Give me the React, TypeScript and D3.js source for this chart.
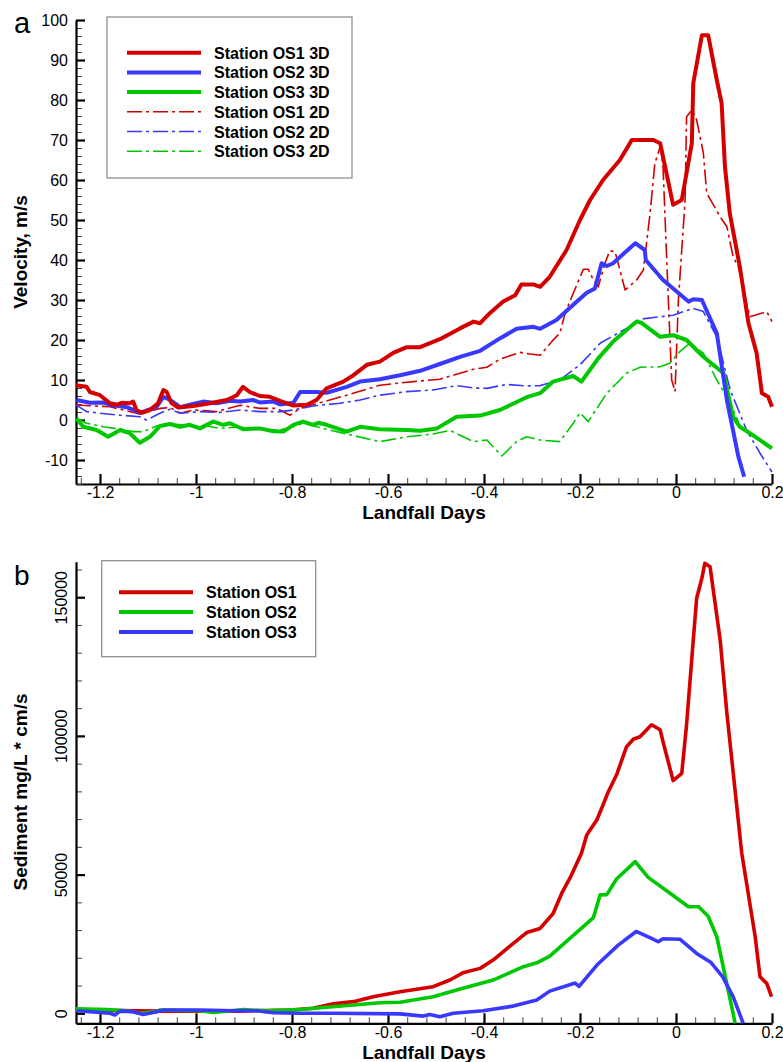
import { useEffect, useRef } from "react";
import * as d3 from "d3";

const width = 783;
const height = 1062;
const font = "'Liberation Sans', Arial, sans-serif";

const red = "#d40000";
const blue = "#3838ff";
const green = "#00c800";

// x ticks shared by both panels (landfall days)
const xTicks = [-1.2, -1, -0.8, -0.6, -0.4, -0.2, 0, 0.2];

// ---- panel a: velocity, m/s ----
const os1_3d_days = [-1.25, -1.228, -1.221, -1.2, -1.179, -1.165, -1.155, -1.138, -1.131, -1.124, -1.113, -1.096, -1.079, -1.068, -1.061, -1.051, -1.037, -1.006, -0.971, -0.936, -0.915, -0.902, -0.888, -0.867, -0.846, -0.825, -0.797, -0.769, -0.749, -0.728, -0.693, -0.672, -0.644, -0.617, -0.589, -0.561, -0.533, -0.492, -0.45, -0.422, -0.408, -0.388, -0.36, -0.335, -0.322, -0.297, -0.283, -0.263, -0.228, -0.2, -0.179, -0.152, -0.117, -0.092, -0.047, -0.033, -0.006, 0.012, 0.033, 0.036, 0.054, 0.067, 0.085, 0.095, 0.102, 0.112, 0.133, 0.151, 0.168, 0.179, 0.192, 0.2];
const os1_3d_vals = [8.7, 8.3, 7, 6.2, 4.2, 3.8, 4.3, 4.2, 4.6, 2.5, 1.8, 2.5, 4.2, 7.5, 7, 4.2, 3.1, 3.5, 4.2, 5, 6.2, 8.3, 7, 6, 5.8, 4.8, 3.6, 3.8, 5, 7.9, 9.6, 11.2, 13.8, 14.6, 16.8, 18.2, 18.2, 20.2, 22.9, 24.6, 24.2, 26.7, 29.6, 31.2, 33.9, 33.9, 33.3, 35.8, 42.5, 50, 55, 60, 65, 70, 70, 69.2, 53.8, 55, 69.2, 84.2, 96.2, 96.2, 85, 79.2, 63.3, 51.7, 38.3, 24.2, 16.7, 6.7, 5.8, 3.3];

const os2_3d_days = [-1.249, -1.221, -1.193, -1.179, -1.144, -1.117, -1.082, -1.068, -1.054, -1.033, -1.006, -0.985, -0.957, -0.929, -0.908, -0.881, -0.867, -0.839, -0.825, -0.797, -0.783, -0.749, -0.728, -0.686, -0.658, -0.617, -0.575, -0.533, -0.492, -0.45, -0.408, -0.367, -0.332, -0.297, -0.283, -0.249, -0.214, -0.186, -0.169, -0.155, -0.144, -0.131, -0.085, -0.065, -0.063, -0.027, 0.026, 0.036, 0.054, 0.085, 0.106, 0.13, 0.142];
const os2_3d_vals = [5, 4.3, 4.4, 3.8, 3.2, 1.8, 3.3, 5.8, 5, 3.2, 4, 4.6, 4.2, 4.8, 4.6, 5, 4.4, 4.6, 3.9, 4.3, 7, 7, 6.8, 8.3, 9.6, 10.2, 11.2, 12.3, 14, 15.8, 17.3, 20.4, 22.8, 23.3, 22.8, 25, 28.8, 31.8, 32.9, 39.2, 38.5, 39.2, 44.2, 42.5, 40, 35, 29.6, 30.2, 30, 21.7, 5, -9.2, -14.2];

const os3_3d_days = [-1.249, -1.235, -1.207, -1.183, -1.158, -1.138, -1.117, -1.096, -1.075, -1.054, -1.033, -1.013, -0.992, -0.964, -0.943, -0.929, -0.902, -0.867, -0.839, -0.818, -0.797, -0.777, -0.756, -0.745, -0.728, -0.686, -0.658, -0.617, -0.561, -0.533, -0.498, -0.457, -0.408, -0.367, -0.311, -0.283, -0.256, -0.214, -0.197, -0.162, -0.131, -0.082, -0.072, -0.033, -0.006, 0.022, 0.057, 0.099, 0.119, 0.133, 0.154, 0.2];
const os3_3d_vals = [0.4, -1.7, -2.5, -4.2, -2.5, -3.3, -5.7, -4.2, -1.5, -1, -1.7, -1.2, -2.1, -0.4, -1.2, -0.8, -2.3, -2.1, -2.8, -2.9, -1.2, -0.4, -1.2, -0.7, -1.2, -2.9, -1.7, -2.3, -2.5, -2.7, -2.1, 0.8, 1.1, 2.5, 5.7, 6.7, 9.6, 11, 9.6, 15.4, 19.6, 24.6, 24.3, 20.8, 21.2, 20, 15.8, 11.7, 0.8, -1.7, -3.3, -7.1];

const os1_2d_days = [-1.25, -1.242, -1.179, -1.117, -1.075, -1.054, -1.033, -1.006, -0.957, -0.908, -0.867, -0.832, -0.804, -0.783, -0.742, -0.686, -0.617, -0.547, -0.492, -0.45, -0.422, -0.394, -0.367, -0.325, -0.304, -0.283, -0.256, -0.242, -0.231, -0.214, -0.193, -0.183, -0.172, -0.162, -0.148, -0.138, -0.127, -0.106, -0.082, -0.068, -0.054, -0.044, -0.033, -0.027, -0.016, -0.009, -0.002, 0.005, 0.019, 0.022, 0.033, 0.043, 0.057, 0.064, 0.092, 0.106, 0.119, 0.13, 0.144, 0.154, 0.189, 0.2];
const os1_2d_vals = [3.9, 3.7, 3.3, 1.5, 2.9, 3.1, 1.7, 2.5, 2.1, 3.7, 2.9, 2.9, 1.2, 2.9, 4.3, 6.2, 8.7, 9.6, 10.2, 11.7, 12.7, 13.2, 15.2, 16.9, 16.5, 16.2, 20, 21.7, 26.7, 31.7, 37.7, 37.7, 35, 33.3, 39.2, 42.3, 42.1, 32.5, 35, 37.5, 51.7, 64.2, 68.3, 63.3, 30, 10, 7.1, 30, 55, 75.8, 77.5, 75, 66.7, 56.7, 50.8, 48.3, 40.8, 38.3, 30.8, 25.8, 27.1, 24.6];

const os2_2d_days = [-1.25, -1.228, -1.2, -1.158, -1.117, -1.103, -1.075, -1.054, -1.033, -0.992, -0.95, -0.908, -0.867, -0.825, -0.797, -0.756, -0.7, -0.658, -0.617, -0.561, -0.506, -0.457, -0.422, -0.394, -0.353, -0.311, -0.283, -0.242, -0.2, -0.158, -0.103, -0.075, -0.006, 0.036, 0.057, 0.085, 0.113, 0.147, 0.175, 0.2];
const os2_2d_vals = [3.8, 2.1, 1.7, 1.2, 0.8, 0, 1.7, 2.7, 1.7, 2.1, 1.9, 2.5, 2.1, 2.1, 2.5, 3.5, 4.2, 5, 6.2, 7.1, 7.5, 8.6, 8, 7.9, 8.9, 8.5, 8.6, 10, 13.8, 19.2, 22.9, 25.2, 26.2, 27.9, 27.1, 20.8, 7.5, -2.5, -8.3, -13];

const os3_2d_days = [-1.249, -1.228, -1.193, -1.158, -1.131, -1.11, -1.082, -1.054, -1.033, -1.006, -0.978, -0.95, -0.908, -0.867, -0.825, -0.797, -0.777, -0.728, -0.686, -0.617, -0.561, -0.506, -0.471, -0.422, -0.394, -0.363, -0.332, -0.311, -0.283, -0.242, -0.214, -0.2, -0.183, -0.144, -0.103, -0.075, -0.033, -0.013, 0.008, 0.029, 0.057, 0.085, 0.113, 0.13];
const os3_2d_vals = [0.4, -0.8, -1.7, -2.3, -2.9, -2.9, -1.5, -0.8, -1.2, -1.7, -1.5, -2.1, -1.7, -2.3, -2.5, -1.7, -0.8, -2.3, -3.5, -5.4, -4.2, -3.5, -2.6, -5.4, -5, -9, -5.4, -4.2, -5, -5.4, -0.8, 1.8, -0.4, 6.7, 11.7, 13.2, 13.3, 14.2, 17.1, 19.2, 16.7, 10, 4.2, -0.5];

// ---- panel b: sediment, mg/L * cm/s ----
const sed_os1_days = [-1.25, -1.075, -0.908, -0.804, -0.756, -0.714, -0.672, -0.631, -0.575, -0.506, -0.471, -0.444, -0.408, -0.381, -0.339, -0.311, -0.283, -0.256, -0.238, -0.221, -0.197, -0.186, -0.165, -0.152, -0.141, -0.124, -0.103, -0.089, -0.075, -0.051, -0.033, -0.027, -0.006, 0.012, 0.022, 0.036, 0.043, 0.054, 0.06, 0.071, 0.092, 0.106, 0.137, 0.165, 0.175, 0.189, 0.199];
const sed_os1_vals = [1200, 800, 800, 1200, 1800, 3400, 4200, 6000, 7800, 9600, 12000, 14600, 16200, 19200, 25200, 29100, 30600, 36000, 43300, 48700, 57700, 64300, 69700, 75100, 79900, 85900, 96100, 98800, 99700, 104000, 102200, 97900, 83900, 86500, 104000, 134600, 149600, 156900, 162200, 161000, 134600, 108200, 57700, 27600, 13200, 10800, 6000];

const sed_os2_days = [-1.25, -1.186, -1.144, -1.117, -1.082, -1.075, -0.992, -0.964, -0.902, -0.853, -0.783, -0.728, -0.672, -0.617, -0.575, -0.506, -0.444, -0.381, -0.318, -0.29, -0.263, -0.172, -0.158, -0.144, -0.124, -0.085, -0.058, -0.006, 0.026, 0.047, 0.067, 0.085, 0.119, 0.123];
const sed_os2_vals = [1600, 1400, 900, 0, 600, 1200, 900, 300, 1400, 900, 1400, 2200, 3000, 3800, 4000, 6000, 9000, 12000, 16800, 18200, 20600, 34500, 42700, 42800, 48400, 54700, 49000, 42500, 38400, 38400, 35000, 27600, 0, -3600];

const sed_os3_days = [-1.249, -1.179, -1.169, -1.158, -1.131, -1.11, -1.082, -1.068, -0.992, -0.922, -0.874, -0.839, -0.783, -0.714, -0.575, -0.527, -0.513, -0.492, -0.464, -0.402, -0.339, -0.29, -0.263, -0.21, -0.202, -0.163, -0.121, -0.083, -0.051, -0.037, -0.027, 0.008, 0.043, 0.073, 0.097, 0.119, 0.14];
const sed_os3_vals = [900, 0, -600, 800, 600, -400, 600, 1200, 1200, 900, 900, 200, 0, 0, -200, -1000, -400, -1200, 0, 900, 2600, 4800, 8000, 10900, 9700, 17700, 24500, 29500, 27000, 25800, 26900, 26700, 21600, 18300, 13200, 6000, -3600];

function zip(days, vals) {
  return days.map((d, i) => [d, vals[i]]);
}

function drawAxes(g, x, y, yBase, yMajor, yMinor, rotateY) {
  const left = x.range()[0];

  // x minor ticks
  g.append("g")
    .attr("transform", "translate(0," + yBase + ")")
    .call(
      d3.axisBottom(x)
        .tickValues(d3.range(0, 37).map((i) => -1.24 + i * 0.04))
        .tickSize(-6)
        .tickSizeOuter(0)
        .tickFormat(() => "")
    )
    .call((a) => a.select(".domain").remove())
    .selectAll("line")
    .attr("stroke", "#444")
    .attr("stroke-width", 1);

  // x major ticks
  const xa = g.append("g")
    .attr("transform", "translate(0," + yBase + ")")
    .call(
      d3.axisBottom(x)
        .tickValues(xTicks)
        .tickSize(-10)
        .tickSizeOuter(0)
        .tickPadding(3)
        .tickFormat((d) => String(d))
    );
  xa.select(".domain").attr("stroke-width", 2.2);
  xa.selectAll("line").attr("stroke-width", 2.2);
  xa.selectAll("text").attr("font-family", font).attr("font-size", 16).attr("fill", "#000");

  // y minor ticks
  g.append("g")
    .attr("transform", "translate(" + left + ",0)")
    .call(d3.axisLeft(y).tickValues(yMinor).tickSize(-6).tickSizeOuter(0).tickFormat(() => ""))
    .call((a) => a.select(".domain").remove())
    .selectAll("line")
    .attr("stroke", "#444")
    .attr("stroke-width", 1);

  // y major ticks
  const ya = g.append("g")
    .attr("transform", "translate(" + left + ",0)")
    .call(
      d3.axisLeft(y)
        .tickValues(yMajor)
        .tickSize(-9)
        .tickSizeOuter(0)
        .tickPadding(8)
        .tickFormat((d) => String(d))
    );
  ya.select(".domain").attr("stroke-width", 2.2);
  ya.selectAll("line").attr("stroke-width", 2.2);
  ya.selectAll("text").attr("font-family", font).attr("font-size", 16).attr("fill", "#000");
  if (rotateY) {
    ya.selectAll("text")
      .attr("x", null)
      .attr("dy", null)
      .attr("text-anchor", "middle")
      .attr("transform", "translate(-9,0) rotate(-90)");
  }
}

function drawLegend(svg, box, rows) {
  svg.append("rect")
    .attr("x", box.x).attr("y", box.y)
    .attr("width", box.w).attr("height", box.h)
    .attr("fill", "#fff").attr("stroke", "#888").attr("stroke-width", 1.2);
  rows.forEach((r, i) => {
    const cy = box.rowY + i * box.gap;
    svg.append("line")
      .attr("x1", box.lx1).attr("x2", box.lx2)
      .attr("y1", cy).attr("y2", cy)
      .attr("stroke", r.color)
      .attr("stroke-width", r.dash ? 1.6 : 4)
      .attr("stroke-dasharray", r.dash ? "15,4,3,4" : null);
    svg.append("text")
      .attr("x", box.tx).attr("y", cy + 6)
      .attr("font-family", font).attr("font-size", 16).attr("font-weight", "bold")
      .text(r.label);
  });
}

function App() {
  const ref = useRef(null);

  useEffect(() => {
    const root = d3.select(ref.current);
    root.selectAll("*").remove();
    const svg = root.append("svg")
      .attr("width", width)
      .attr("height", height)
      .attr("viewBox", [0, 0, width, height])
      .style("display", "block")
      .style("background", "#fff");

    const x = d3.scaleLinear().domain([-1.25, 0.2]).range([76, 772]);

    // ---------- panel a ----------
    const ya = d3.scaleLinear().domain([-16, 100]).range([484, 20]);
    const ga = svg.append("g");
    drawAxes(ga, x, ya, 484, d3.range(-10, 101, 10), d3.range(-16, 101, 2), false);

    const lineA = d3.line().x((d) => x(d[0])).y((d) => ya(d[1]));
    const seriesA = [
      { data: zip(os1_2d_days, os1_2d_vals), color: red, dash: true },
      { data: zip(os2_2d_days, os2_2d_vals), color: blue, dash: true },
      { data: zip(os3_2d_days, os3_2d_vals), color: green, dash: true },
      { data: zip(os3_3d_days, os3_3d_vals), color: green, dash: false },
      { data: zip(os2_3d_days, os2_3d_vals), color: blue, dash: false },
      { data: zip(os1_3d_days, os1_3d_vals), color: red, dash: false },
    ];
    seriesA.forEach((s) => {
      ga.append("path")
        .attr("d", lineA(s.data))
        .attr("fill", "none")
        .attr("stroke", s.color)
        .attr("stroke-width", s.dash ? 1.6 : 4)
        .attr("stroke-linejoin", "round")
        .attr("stroke-dasharray", s.dash ? "15,4,3,4" : null);
    });

    ga.append("text")
      .attr("transform", "translate(27,252) rotate(-90)")
      .attr("text-anchor", "middle")
      .attr("font-family", font).attr("font-size", 19).attr("font-weight", "bold")
      .text("Velocity, m/s");
    ga.append("text")
      .attr("x", 424).attr("y", 519)
      .attr("text-anchor", "middle")
      .attr("font-family", font).attr("font-size", 19).attr("font-weight", "bold")
      .text("Landfall Days");
    ga.append("text")
      .attr("x", 14).attr("y", 33)
      .attr("font-family", font).attr("font-size", 29)
      .text("a");

    drawLegend(ga, { x: 107, y: 17, w: 245, h: 161, rowY: 52.7, gap: 19.7, lx1: 127, lx2: 201, tx: 214 }, [
      { label: "Station OS1 3D", color: red, dash: false },
      { label: "Station OS2 3D", color: blue, dash: false },
      { label: "Station OS3 3D", color: green, dash: false },
      { label: "Station OS1 2D", color: red, dash: true },
      { label: "Station OS2 2D", color: blue, dash: true },
      { label: "Station OS3 2D", color: green, dash: true },
    ]);

    // ---------- panel b ----------
    const yb = d3.scaleLinear().domain([-3600, 162800]).range([1023.3, 561.7]);
    const gb = svg.append("g");
    drawAxes(gb, x, yb, 1023.3, [0, 50000, 100000, 150000], d3.range(0, 160001, 10000), true);

    const lineB = d3.line().x((d) => x(d[0])).y((d) => yb(d[1]));
    const seriesB = [
      { data: zip(sed_os1_days, sed_os1_vals), color: red },
      { data: zip(sed_os2_days, sed_os2_vals), color: green },
      { data: zip(sed_os3_days, sed_os3_vals), color: blue },
    ];
    seriesB.forEach((s) => {
      gb.append("path")
        .attr("d", lineB(s.data))
        .attr("fill", "none")
        .attr("stroke", s.color)
        .attr("stroke-width", 3.6)
        .attr("stroke-linejoin", "round");
    });

    gb.append("text")
      .attr("transform", "translate(27,792) rotate(-90)")
      .attr("text-anchor", "middle")
      .attr("font-family", font).attr("font-size", 19).attr("font-weight", "bold")
      .text("Sediment mg/L * cm/s");
    gb.append("text")
      .attr("x", 424).attr("y", 1059)
      .attr("text-anchor", "middle")
      .attr("font-family", font).attr("font-size", 19).attr("font-weight", "bold")
      .text("Landfall Days");
    gb.append("text")
      .attr("x", 14).attr("y", 585)
      .attr("font-family", font).attr("font-size", 28)
      .text("b");

    drawLegend(gb, { x: 101.7, y: 560.7, w: 214, h: 96, rowY: 592.3, gap: 19.8, lx1: 119, lx2: 193, tx: 206 }, [
      { label: "Station OS1", color: red, dash: false },
      { label: "Station OS2", color: green, dash: false },
      { label: "Station OS3", color: blue, dash: false },
    ]);
  }, []);

  return <div ref={ref} style={{ position: "absolute", left: 0, top: 0 }} />;
}

export default App;
